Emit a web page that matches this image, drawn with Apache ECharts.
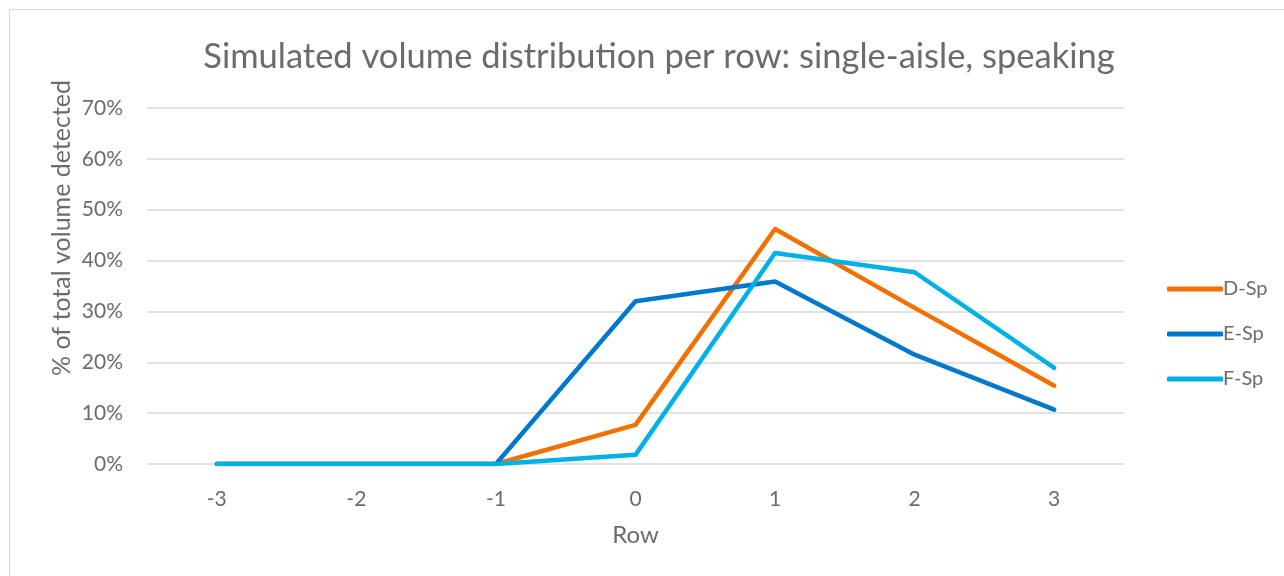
<!DOCTYPE html>
<html>
<head>
<meta charset="utf-8">
<script src="https://cdn.jsdelivr.net/npm/echarts@6/dist/echarts.min.js"></script>
<style>
html,body{margin:0;padding:0;background:#fff;}
#c{width:1284px;height:576px;}
</style>
</head>
<body>
<div id="c"></div>
<script>
const categories = ['-3','-2','-1','0','1','2','3'];
const dSp = [0, 0, 0, 0.077, 0.462, 0.307, 0.154];
const eSp = [0, 0, 0, 0.320, 0.359, 0.215, 0.107];
const fSp = [0, 0, 0, 0.018, 0.415, 0.377, 0.189];
const seriesNames = ['D-Sp','E-Sp','F-Sp'];
const colors = ['#F27000','#0078CC','#00B0E6'];

const FONT = 'Lato, "Open Sans", sans-serif';
const GREY = '#6B6B6B';
const chart = echarts.init(document.getElementById('c'));
const mk = (name, data, color) => ({
  name, type:'line', data, symbol:'none', smooth:false,
  lineStyle:{width:4.5, color, cap:'round', join:'round'},
  itemStyle:{color}
});
chart.setOption({
  animation:false,
  backgroundColor:'#fff',
  title:{
    text:'Simulated volume distribution per row: single-aisle, speaking',
    left:654, top:34, textAlign:'center',
    textStyle:{fontFamily:FONT, fontSize:34.5, fontWeight:'normal', color:GREY}
  },
  legend:{
    orient:'vertical', left:1162, top:274, itemGap:25,
    itemWidth:56, itemHeight:5,
    icon:'roundRect',
    data:seriesNames,
    textStyle:{fontFamily:FONT, fontSize:20, lineHeight:20, color:GREY, padding:[0,0,0,-5]}
  },
  grid:{left:147, right:160, top:108, bottom:112, containLabel:false},
  xAxis:{
    type:'category', data:categories, boundaryGap:true,
    axisLine:{show:false}, axisTick:{show:false},
    axisLabel:{fontFamily:FONT, fontSize:21, color:GREY, margin:25},
    name:'Row', nameLocation:'middle', nameGap:59,
    nameTextStyle:{fontFamily:FONT, fontSize:24, color:GREY}
  },
  yAxis:{
    type:'value', min:0, max:0.7, interval:0.1,
    axisLine:{show:false}, axisTick:{show:false},
    axisLabel:{fontFamily:FONT, fontSize:21, color:GREY, margin:24,
      formatter:v=>Math.round(v*100)+'%'},
    splitLine:{lineStyle:{color:'#D9D9D9', width:1.5}}
  },
  graphic:[
    {type:'rect', shape:{x:9.5,y:9.5,width:1300,height:600}, style:{fill:'none', stroke:'#D9D9D9', lineWidth:1}, silent:true},
    {type:'text', x:62, y:228, rotation:Math.PI/2,
      style:{text:'% of total volume detected', fontFamily:FONT, fontSize:25, fill:GREY, textAlign:'center', textVerticalAlign:'middle'}}
  ],
  series:[mk(seriesNames[0], dSp, colors[0]), mk(seriesNames[1], eSp, colors[1]), mk(seriesNames[2], fSp, colors[2])]
});
</script>
</body>
</html>
